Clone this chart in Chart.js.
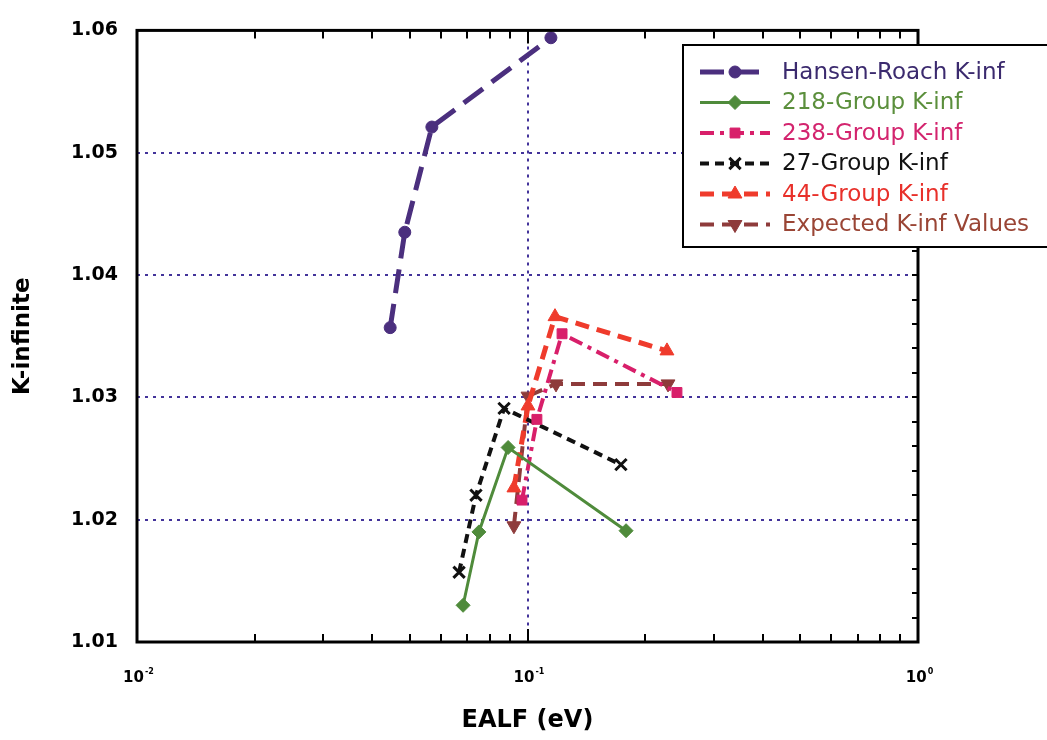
<!DOCTYPE html>
<html>
<head>
<meta charset="utf-8">
<script src="https://cdn.jsdelivr.net/npm/chart.js@4.4.1/dist/chart.umd.min.js"></script>
<style>
  body { margin: 0; background: #fff; }
  #wrap { width: 1047px; height: 740px; position: relative; }
</style>
</head>
<body>
<div id="wrap"><canvas id="chart"></canvas></div>
<script>
// K-infinite vs EALF

var seriesNames = ['Hansen-Roach K-inf', '218-Group K-inf', '238-Group K-inf',
                   '27-Group K-inf', '44-Group K-inf', 'Expected K-inf Values'];

var hansenX = [0.0445, 0.0485, 0.0569, 0.1148];
var hansenY = [1.0357, 1.0435, 1.0521, 1.0594];

var g218X = [0.0684, 0.0751, 0.0892, 0.1788];
var g218Y = [1.0130, 1.0190, 1.0259, 1.0191];

var g238X = [0.0968, 0.1057, 0.1226, 0.2414];
var g238Y = [1.0216, 1.0282, 1.0352, 1.0304];

var g27X = [0.0668, 0.0738, 0.0871, 0.1735];
var g27Y = [1.0157, 1.0220, 1.0291, 1.0245];

var g44X = [0.0923, 0.1003, 0.1176, 0.2276];
var g44Y = [1.0226, 1.0293, 1.0366, 1.0338];

var expX = [0.0923, 0.1003, 0.1183, 0.2290];
var expY = [1.0195, 1.0301, 1.0311, 1.0311];

var xTickValues = [0.01, 0.1, 1];
var xTickExps = ['-2', '-1', '0'];
var yTickValues = [1.01, 1.02, 1.03, 1.04, 1.05, 1.06];

var GRID = '#43339a';
var FONT = 'DejaVu Sans';

function pts(xs, ys) {
  return xs.map(function (x, i) { return { x: x, y: ys[i] }; });
}

// text colours for the legend entries
var legendColors = ['#3b2a6e', '#5b8f3c', '#d3246e', '#111111', '#e8302a', '#9a4535'];

var datasets = [
  { label: seriesNames[0], data: pts(hansenX, hansenY), borderColor: '#4b2f7e', backgroundColor: '#4b2f7e',
    borderWidth: 5, borderDash: [24, 11], pointStyle: 'circle', pointRadius: 6 },
  { label: seriesNames[1], data: pts(g218X, g218Y), borderColor: '#4f8b3b', backgroundColor: '#4f8b3b',
    borderWidth: 3, borderDash: [], pointStyle: 'rectRot', pointRadius: 7 },
  { label: seriesNames[2], data: pts(g238X, g238Y), borderColor: '#d81f6a', backgroundColor: '#d81f6a',
    borderWidth: 4, borderDash: [14, 6, 4, 6], pointStyle: 'rect', pointRadius: 7 },
  { label: seriesNames[3], data: pts(g27X, g27Y), borderColor: '#111111', backgroundColor: '#111111',
    borderWidth: 4, borderDash: [9, 6], pointStyle: 'crossRot', pointRadius: 8, pointBorderWidth: 3 },
  { label: seriesNames[4], data: pts(g44X, g44Y), borderColor: '#ef3b2c', backgroundColor: '#ef3b2c',
    borderWidth: 5, borderDash: [14, 8], pointStyle: 'triangle', pointRadius: 8 },
  { label: seriesNames[5], data: pts(expX, expY), borderColor: '#8e3b3b', backgroundColor: '#8e3b3b',
    borderWidth: 4, borderDash: [14, 8], pointStyle: 'triangle', pointRotation: 180, pointRadius: 8 }
];
datasets.forEach(function (d) {
  d.pointBackgroundColor = d.backgroundColor;
  d.pointBorderColor = d.borderColor;
  if (d.pointBorderWidth == null) d.pointBorderWidth = 1;
  d.fill = false;
  d.tension = 0;
});

// frame with inner tick marks, plus the 10^n labels
var framePlugin = {
  id: 'frame',
  afterDraw: function (chart) {
    var ctx = chart.ctx, a = chart.chartArea;
    var xs = chart.scales.x, ys = chart.scales.y;
    ctx.save();
    ctx.strokeStyle = '#000';
    ctx.lineWidth = 2;
    ctx.setLineDash([]);
    ctx.beginPath();
    // minor ticks along bottom and top
    [0.01, 0.1].forEach(function (dec) {
      for (var m = 1; m <= 9; m++) {
        var v = dec * m;
        if (v <= 0.01 || v >= 1) continue;
        var px = Math.round(xs.getPixelForValue(v));
        var len = (Math.abs(v - 0.1) < 1e-9) ? 13 : 8;
        ctx.moveTo(px, a.bottom); ctx.lineTo(px, a.bottom - len);
        ctx.moveTo(px, a.top); ctx.lineTo(px, a.top + len);
      }
    });
    // minor ticks along right side
    for (var k = 1; k < 25; k++) {
      var py = Math.round(ys.getPixelForValue(1.01 + k * 0.002));
      ctx.moveTo(a.right, py); ctx.lineTo(a.right - 6, py);
    }
    ctx.stroke();
    ctx.lineWidth = 3;
    ctx.strokeRect(a.left, a.top, a.right - a.left, a.bottom - a.top);

    // x tick labels with superscript exponent
    ctx.fillStyle = '#000';
    ctx.textBaseline = 'alphabetic';
    xTickValues.forEach(function (v, i) {
      var px = xs.getPixelForValue(v);
      ctx.font = 'bold 15px "' + FONT + '"';
      var w1 = ctx.measureText('10').width;
      ctx.font = 'bold 8px "' + FONT + '"';
      var w2 = ctx.measureText(xTickExps[i]).width;
      var x0 = px - (w1 + w2) / 2 + 1;
      ctx.font = 'bold 15px "' + FONT + '"';
      ctx.textAlign = 'left';
      ctx.fillText('10', x0, 682);
      ctx.font = 'bold 8px "' + FONT + '"';
      ctx.fillText(xTickExps[i], x0 + w1 + 1, 674);
    });
    ctx.restore();
  }
};

// legend box, partly cut off at the right edge
var legendPlugin = {
  id: 'boxLegend',
  afterDraw: function (chart) {
    var ctx = chart.ctx;
    var bx = 683, by = 45, bw = 420, bh = 202;
    ctx.save();
    ctx.fillStyle = '#fff';
    ctx.fillRect(bx, by, bw, bh);
    ctx.strokeStyle = '#000';
    ctx.lineWidth = 2;
    ctx.strokeRect(bx, by, bw, bh);
    chart.data.datasets.forEach(function (d, i) {
      var y = 72 + i * 30.5;
      ctx.strokeStyle = d.borderColor;
      ctx.lineWidth = d.borderWidth;
      ctx.setLineDash(d.borderDash || []);
      ctx.beginPath();
      ctx.moveTo(700, y); ctx.lineTo(770, y);
      ctx.stroke();
      ctx.setLineDash([]);
      ctx.fillStyle = d.backgroundColor;
      ctx.lineWidth = d.pointBorderWidth;
      Chart.helpers.drawPoint(ctx, {
        pointStyle: d.pointStyle, radius: d.pointRadius, rotation: d.pointRotation || 0,
        borderWidth: d.pointBorderWidth
      }, 735, y);
      ctx.fillStyle = legendColors[i];
      ctx.font = '23px "' + FONT + '"';
      ctx.textAlign = 'left';
      ctx.textBaseline = 'middle';
      ctx.fillText(d.label, 782, y + 1);
    });
    ctx.restore();
  }
};

new Chart(document.getElementById('chart'), {
  type: 'line',
  data: { datasets: datasets },
  plugins: [framePlugin, legendPlugin],
  options: {
    responsive: true,
    maintainAspectRatio: false,
    animation: false,
    layout: { padding: { top: 19, right: 129, left: 0, bottom: 0 } },
    plugins: { legend: { display: false }, tooltip: { enabled: false } },
    scales: {
      x: {
        type: 'logarithmic',
        min: 0.01,
        max: 1,
        afterBuildTicks: function (s) {
          s.ticks = xTickValues.map(function (v) { return { value: v }; });
        },
        afterFit: function (s) { s.height = 98; },
        ticks: { display: false },
        grid: {
          color: function (c) { return c.tick && Math.abs(c.tick.value - 0.1) < 1e-9 ? GRID : 'rgba(0,0,0,0)'; },
          lineWidth: 2,
          drawTicks: false
        },
        border: { display: false, dash: [3, 5] },
        title: {
          display: true, text: 'EALF (eV)', color: '#000',
          font: { family: FONT, weight: 'bold', size: 24 },
          padding: { top: 0, bottom: 5 }
        }
      },
      y: {
        min: 1.01,
        max: 1.06,
        afterBuildTicks: function (s) {
          s.ticks = yTickValues.map(function (v) { return { value: v }; });
        },
        afterFit: function (s) { s.width = 137; },
        ticks: {
          padding: 19, color: '#000',
          font: { family: FONT, weight: 'bold', size: 19 },
          callback: function (v) { return Number(v).toFixed(2); }
        },
        grid: {
          color: function (c) {
            var v = c.tick ? c.tick.value : 0;
            return (v > 1.011 && v < 1.059) ? GRID : 'rgba(0,0,0,0)';
          },
          lineWidth: 2,
          drawTicks: false
        },
        border: { display: false, dash: [3, 5] },
        title: {
          display: true, text: 'K-infinite', color: '#000',
          font: { family: FONT, weight: 'bold', size: 23 },
          padding: { top: 9, bottom: 0 }
        }
      }
    }
  }
});
</script>
</body>
</html>
